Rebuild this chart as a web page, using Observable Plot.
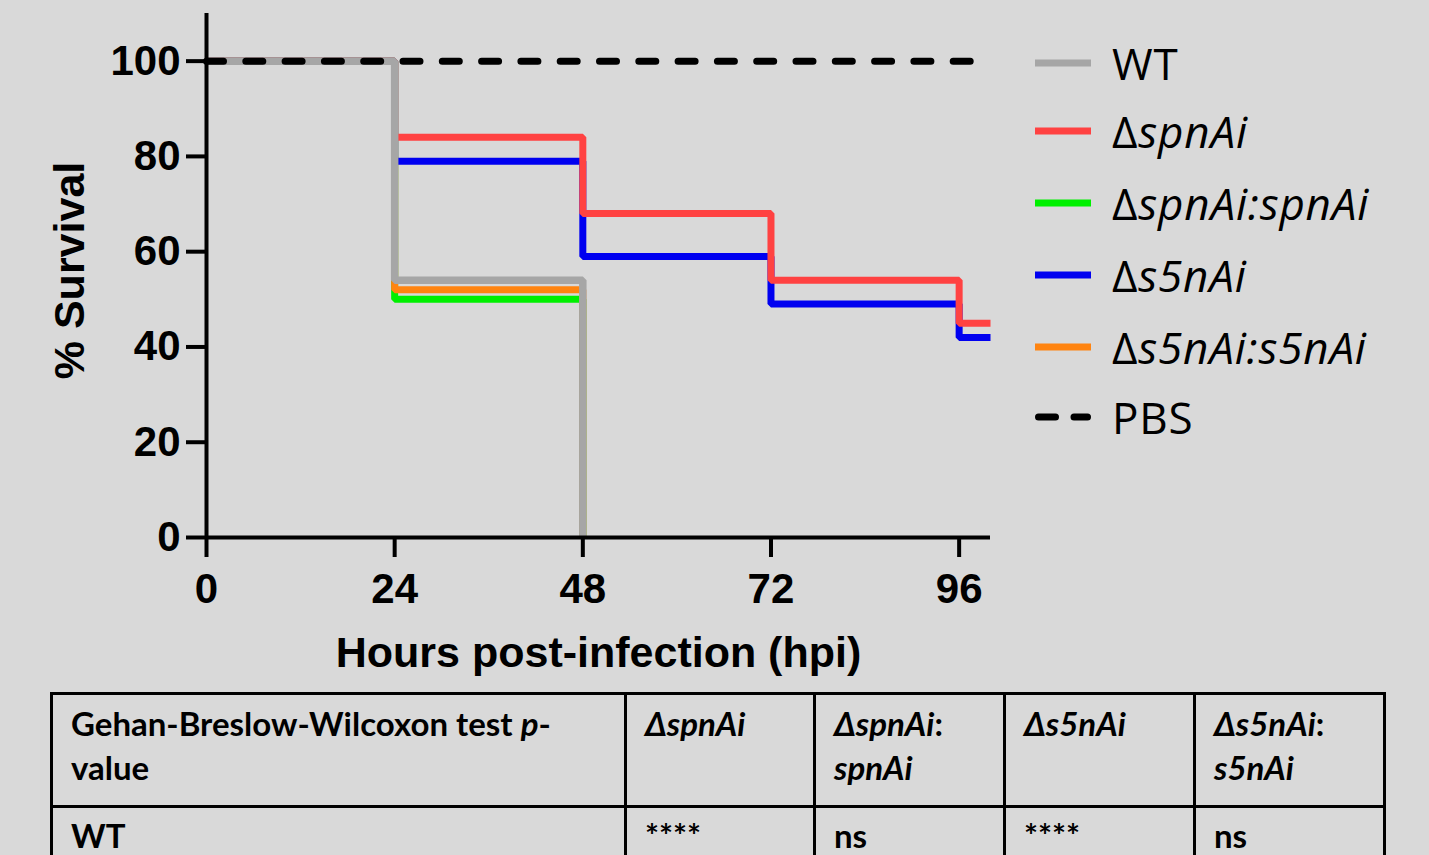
<!DOCTYPE html>
<html>
<head>
<meta charset="utf-8">
<script src="https://cdn.jsdelivr.net/npm/d3@7"></script>
<script src="https://cdn.jsdelivr.net/npm/@observablehq/plot@0.6"></script>
<style>
  html, body { margin: 0; padding: 0; background: #d9d9d9; width: 1429px; height: 855px; overflow: hidden; }
  #wrap { position: relative; width: 1429px; height: 855px; }
  #chart { position: absolute; left: 0; top: 0; }
  .leg { position: absolute; left: 1035px; height: 50px; display: flex; align-items: center; font-family: "Open Sans", "Noto Sans", sans-serif; font-size: 44px; letter-spacing: 0.8px; color: #000; white-space: nowrap; }
  .leg svg { margin-right: 21px; }
  table { position: absolute; left: 50px; top: 692px; width: 1334px; border-collapse: collapse; font-family: Lato, "Open Sans", sans-serif; font-weight: bold; font-size: 33px; line-height: 44px; color: #000; table-layout: fixed; }
  td { border: 3px solid #000; vertical-align: top; padding: 6px 10px 0 18px; box-sizing: border-box; }
  tr.r1 td { height: 113px; }
  tr.r2 td { height: 70px; padding-top: 5px; }
</style>
</head>
<body>
<div id="wrap">
  <div id="chart"></div>
  <div id="legend"></div>
  <div id="table"></div>
</div>
<script>
// ---- data ----
const seriesNames  = ["WT", "ΔspnAi", "ΔspnAi:spnAi", "Δs5nAi", "Δs5nAi:s5nAi", "PBS"];
const seriesColors = ["#a6a6a6", "#ff4242", "#00f000", "#0000f0", "#ff8410", "#000000"];

const wtHours       = [0, 24, 48];
const wtSurvival    = [100, 54, 0];
const spnHours      = [0, 24, 48, 72, 96, 100];
const spnSurvival   = [100, 84, 68, 54, 45, 45];
const spnCompHours  = [0, 24, 48];
const spnCompSurv   = [100, 50, 0];
const s5nHours      = [0, 24, 48, 72, 96, 100];
const s5nSurvival   = [100, 79, 59, 49, 42, 42];
const s5nCompHours  = [0, 24, 48];
const s5nCompSurv   = [100, 52, 0];
const pbsHours      = [0, 100];
const pbsSurvival   = [100, 100];

const xTicks = [0, 24, 48, 72, 96];
const yTicks = [0, 20, 40, 60, 80, 100];

const tableHeader = ["Gehan-Breslow-Wilcoxon test <i>p</i>-<br>value", "<i>ΔspnAi</i>", "<i>ΔspnAi</i>:<br><i>spnAi</i>", "<i>Δs5nAi</i>", "<i>Δs5nAi</i>:<br><i>s5nAi</i>"];
const tableRow    = ["WT", "****", "ns", "****", "ns"];

// ---- build ----
const toRows = (hs, vs) => hs.map((h, i) => ({h, s: vs[i]}));
const series = {
  "WT": toRows(wtHours, wtSurvival),
  "ΔspnAi": toRows(spnHours, spnSurvival),
  "ΔspnAi:spnAi": toRows(spnCompHours, spnCompSurv),
  "Δs5nAi": toRows(s5nHours, s5nSurvival),
  "Δs5nAi:s5nAi": toRows(s5nCompHours, s5nCompSurv),
  "PBS": toRows(pbsHours, pbsSurvival)
};
const col = name => seriesColors[seriesNames.indexOf(name)];
const drawOrder = ["ΔspnAi:spnAi", "Δs5nAi:s5nAi", "Δs5nAi", "ΔspnAi", "WT"];

const stepLine = name => Plot.line(series[name], {
  x: "h", y: "s", curve: "step-after", stroke: col(name),
  strokeWidth: name === "WT" ? 7.5 : 7, strokeLinejoin: "miter", strokeLinecap: "butt"
});

const font = "'Liberation Sans', Arial, sans-serif";

const chart = Plot.plot({
  width: 1429, height: 690,
  marginLeft: 206, marginRight: 439, marginTop: 13, marginBottom: 153,
  style: {background: "transparent", fontFamily: font, color: "#000", overflow: "visible"},
  x: {domain: [0, 100]},
  y: {domain: [0, 110]},
  marks: [
    ...drawOrder.map(stepLine),
    Plot.line(series["PBS"], {x: "h", y: "s", stroke: col("PBS"), strokeWidth: 7, strokeDasharray: "17,22.3", strokeLinecap: "round"}),
    Plot.ruleX([0], {y1: 0, y2: 110, stroke: "#000", strokeWidth: 4}),
    Plot.ruleY([0], {x1: 0, x2: 100, stroke: "#000", strokeWidth: 4}),
    Plot.axisX({ticks: xTicks, tickSize: 20, tickPadding: 16, strokeWidth: 4, stroke: "#000", fill: "#000", fontSize: 42, fontWeight: "bold", fontFamily: font, label: null}),
    Plot.axisY({ticks: yTicks, tickSize: 20, tickPadding: 6, strokeWidth: 4, stroke: "#000", fill: "#000", fontSize: 42, fontWeight: "bold", fontFamily: font, label: null}),
    Plot.text(["Hours post-infection (hpi)"], {frameAnchor: "bottom", lineAnchor: "middle", dy: 116, fontSize: 43, fontWeight: "bold", fontFamily: font, fill: "#000"}),
    Plot.text(["% Survival"], {frameAnchor: "left", lineAnchor: "middle", textAnchor: "middle", rotate: -90, dx: -136, dy: -5, fontSize: 43, fontWeight: "bold", fontFamily: font, fill: "#000"})
  ]
});
document.getElementById("chart").appendChild(chart);

// ---- legend ----
const legendY = [63, 131, 203, 275, 347, 417];
const legend = document.getElementById("legend");
seriesNames.forEach((name, i) => {
  const d = document.createElement("div");
  d.className = "leg";
  d.style.top = (legendY[i] - 25) + "px";
  const dash = name === "PBS" ? `stroke-dasharray="17,18.5" stroke-linecap="round"` : "";
  const x1 = name === "PBS" ? 3.5 : 0, x2 = name === "PBS" ? 52.5 : 56;
  const label = name.startsWith("Δ") ? "Δ<i>" + name.slice(1) + "</i>" : name;
  d.innerHTML = `<svg width="56" height="12"><line x1="${x1}" x2="${x2}" y1="6" y2="6" stroke="${seriesColors[i]}" stroke-width="7" ${dash}/></svg><span>${label}</span>`;
  legend.appendChild(d);
});

// ---- table ----
const widths = [574, 189, 190, 190, 190];
let html = "<table><colgroup>" + widths.map(w => `<col style="width:${w}px">`).join("") + "</colgroup>";
html += "<tr class='r1'>" + tableHeader.map(t => `<td>${t}</td>`).join("") + "</tr>";
html += "<tr class='r2'>" + tableRow.map(t => `<td>${t}</td>`).join("") + "</tr></table>";
document.getElementById("table").innerHTML = html;
</script>
</body>
</html>
